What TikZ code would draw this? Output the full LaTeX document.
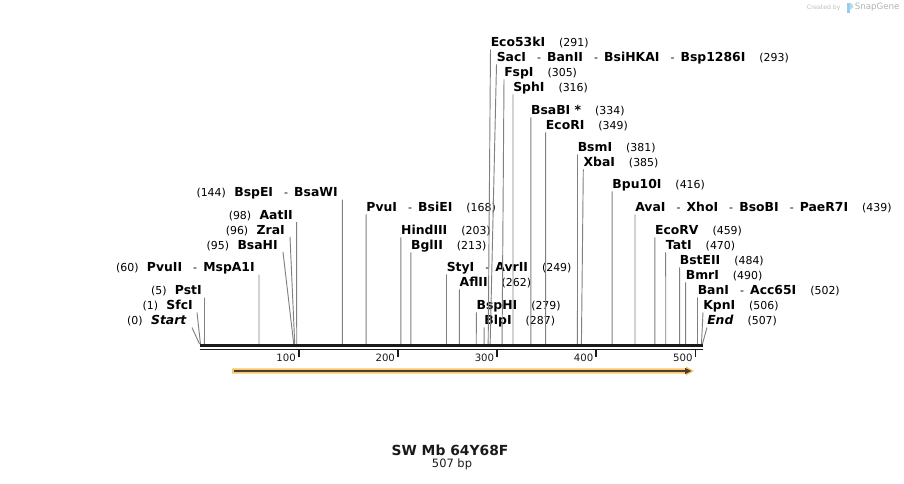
\documentclass[tikz,border=0pt]{standalone}
\usepackage{fontspec}
\setmainfont{DejaVu Sans}
\definecolor{featorange}{RGB}{250,198,108}
\definecolor{featdark}{RGB}{78,62,40}
\definecolor{sitegray}{RGB}{128,128,128}
\definecolor{axisblack}{RGB}{26,26,26}
\definecolor{logoblue}{RGB}{150,205,235}
\newcommand{\posfont}{\fontsize{8.2}{9}\selectfont\mdseries}
\newcommand{\enzsep}{\hspace{8.3pt}{\posfont -}\hspace{4.6pt}}
\tikzset{
  enz/.style={font=\fontsize{9.3}{10}\selectfont\bfseries, inner sep=0pt},
  site/.style={sitegray, line width=0.7pt},
  tickmark/.style={axisblack, line width=1.3pt},
  ticklbl/.style={font=\fontsize{7.6}{8}\selectfont, inner sep=0pt, text=axisblack},
}
\begin{document}
\begin{tikzpicture}[x=0.75pt, y=-0.75pt]
\useasboundingbox (0,0) rectangle (904,483);

% sites with label right of the line
\foreach \b/\wx/\ly/\txt in {
    168/366.2/207/{PvuI\enzsep BsiEI}, 203/400.9/230/{HindIII}, 213/410.8/245/{BglII},
    249/446.5/267/{StyI\enzsep AvrII}, 262/459.4/282/{AflII}, 279/476.3/305/{BspHI},
    287/484.2/320/{BlpI}, 291/490.5/42/{Eco53kI},
    293/496.5/57/{SacI\enzsep BanII\enzsep BsiHKAI\enzsep Bsp1286I},
    305/504/72/{FspI}, 316/513/87/{SphI}, 334/530.8/110/{BsaBI *}, 349/545.7/125/{EcoRI},
    381/577.5/147/{BsmI}, 385/583.3/162/{XbaI}, 416/612.2/184/{Bpu10I},
    439/635/207/{AvaI\enzsep XhoI\enzsep BsoBI\enzsep PaeR7I},
    459/654.8/230/{EcoRV}, 470/665.7/245/{TatI}, 484/679.6/260/{BstEII},
    490/685.6/275/{BmrI}, 502/697.5/290/{BanI\enzsep Acc65I}, 506/703/305/{KpnI},
    507/707/320/{\textit{End}}}{
  \coordinate (c-\b) at (199.5+0.992*\b, 344);
  \node[enz, anchor=base west] (l-\b) at (\wx, \ly+4.5) {\txt\hspace{10.5pt}{\posfont(\b)}};
  \draw[site] ([yshift=-2.2pt]l-\b.base west) -- (c-\b);
}

% sites with label left of the line
\foreach \b/\ex/\tx/\ly/\txt in {
    144/338/342.3/192/{BspEI\enzsep BsaWI}, 98/293/296.7/214.5/{AatII},
    96/285/290/229.5/{ZraI}, 95/278/283/244.5/{BsaHI}, 60/255/259/267/{PvuII\enzsep MspA1I},
    5/202/204.5/290/{PstI}, 1/193/197/305/{SfcI}, 0/187/192/320/{\textit{Start}}}{
  \coordinate (c-\b) at (199.5+0.992*\b, 344);
  \node[enz, anchor=base east] (l-\b) at (\ex, \ly+4.5) {{\posfont(\b)}\hspace{6.3pt}\txt};
  \coordinate (t-\b) at (\tx, \ly+7.5);
  \draw[site] (t-\b) -- (c-\b);
}

% sequence axis
\draw[axisblack, line width=2pt] (199.5,345.3) -- (702.5,345.3);
\draw[axisblack, line width=1.3pt] (199.5,349.5) -- (702.5,349.5);
\foreach \t in {100,200,...,500}{
  \draw[tickmark] (199.5+0.992*\t, 350.3) -- (199.5+0.992*\t, 357);
  \node[ticklbl, anchor=east] (tk-\t) at (196.8+0.992*\t, 357.5) {\t};
}

% feature arrow
\fill[featorange] (232,368.3) -- (686,368.3) -- (686,366.5) -- (694,371) -- (686,375.5)
  -- (686,373.7) -- (232,373.7) -- cycle;
\draw[featdark, line width=1.4pt] (233.5,371) -- (686,371);
\fill[featdark] (685,367.8) -- (691.5,371) -- (685,374.2) -- cycle;

% title
\node[font=\fontsize{10.4}{12}\selectfont\bfseries, anchor=base, text=axisblack] (title) at (450,455.5) {SW Mb 64Y68F};
\node[font=\fontsize{8.6}{10}\selectfont, anchor=base, text=axisblack] (len) at (452,467.5) {507 bp};

% logo
\node[font=\fontsize{4.6}{5}\selectfont, text=gray!50, anchor=west, inner sep=0pt] (made) at (806.5,7.5) {Created by};
\fill[logoblue] (846.5,3) rectangle (850,12.5);
\fill[logoblue!70] (850,3) -- (853,4.5) -- (853,8) -- (850,9.5) -- cycle;
\node[font=\fontsize{6.5}{7}\selectfont, text=gray!60, anchor=west, inner sep=0pt] (sg) at (854.5,7.5) {SnapGene};
\end{tikzpicture}
\end{document}
